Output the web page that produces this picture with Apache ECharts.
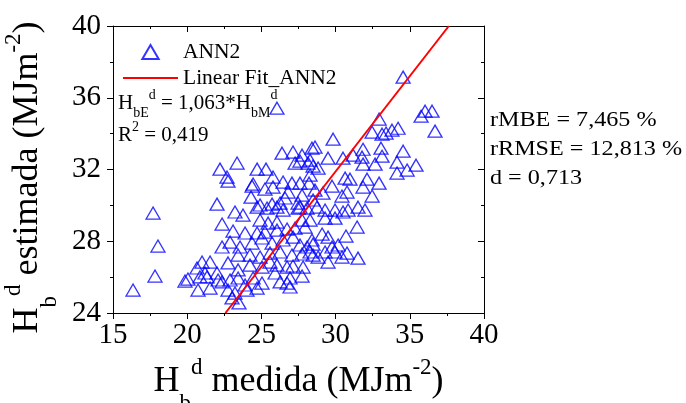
<!DOCTYPE html>
<html>
<head>
<meta charset="utf-8">
<script src="https://cdn.jsdelivr.net/npm/echarts@6/dist/echarts.min.js"></script>
<style>
  html, body { margin: 0; padding: 0; background: #ffffff; }
  #chart { width: 686px; height: 403px; }
</style>
</head>
<body>
<div id="chart"></div>
<script>
// Measured daily diffuse irradiation (MJ m-2)
const measured = [
  16.35, 17.70, 18.03, 17.83, 19.85, 26.05, 34.55, 35.76, 36.03, 36.50,
  36.70, 32.93, 32.46, 33.13, 33.40, 33.80, 34.21, 29.83, 28.61, 29.49,
  30.50, 31.18, 31.85, 31.78, 31.85, 32.66, 33.06, 33.13, 34.55, 34.14,
  34.82, 35.42, 34.14, 28.48, 28.82, 27.74, 27.13, 27.27, 28.28, 26.39,
  28.41, 27.60, 28.14, 23.36, 22.21, 22.68, 22.75, 24.71, 25.31, 25.78,
  26.46, 27.06, 27.60, 28.28, 28.21, 24.37, 25.24, 25.78, 26.80, 27.74,
  26.59, 24.30, 22.01, 24.91, 25.72, 26.26, 27.47, 28.48, 29.76, 30.64,
  30.97, 32.12, 31.85, 32.93, 30.77, 30.43, 32.46, 29.15, 31.51, 28.75,
  29.29, 29.96, 30.50, 30.84, 31.98, 29.29, 29.96, 31.45, 29.09, 29.49,
  30.70, 28.41, 29.76, 30.17, 30.77, 29.96, 29.29, 28.48, 28.82, 29.49,
  30.43, 31.51, 28.61, 27.60, 23.22, 23.76, 24.71, 25.38, 26.05, 26.46,
  27.47, 28.08, 24.91, 25.45, 26.05, 22.35, 23.09, 23.90, 24.71, 25.24,
  26.05, 26.73, 27.27, 27.74, 27.94, 28.28, 22.35, 22.89, 23.56, 24.37,
  25.04, 25.72, 26.46, 27.13, 27.60, 28.08, 28.48, 23.43, 24.23, 24.91,
  25.58, 26.26, 27.06, 27.74, 28.28, 21.00, 21.54, 22.75, 20.66, 21.20,
  22.01, 23.43, 24.23, 25.04, 25.58, 26.05, 26.73, 27.13, 27.81, 20.05,
  20.86, 21.34, 22.35, 22.89, 23.43, 24.44, 25.04, 25.92, 26.26, 26.73,
  20.73, 21.54, 22.75, 23.22, 24.03, 24.71, 23.90, 23.02, 23.49, 26.93,
  26.93, 27.74, 22.08, 24.44
];

// ANN2 estimated daily diffuse irradiation (MJ m-2)
const estimated = [
  25.28, 29.57, 27.73, 26.06, 25.78, 35.42, 37.15, 34.97, 35.25, 35.25,
  34.14, 34.81, 34.08, 33.97, 34.03, 34.19, 34.30, 33.69, 33.25, 32.63,
  32.63, 32.80, 33.13, 32.69, 32.30, 32.30, 33.19, 32.74, 33.02, 32.41,
  31.97, 32.24, 31.80, 32.19, 32.08, 32.80, 32.97, 32.36, 32.52, 32.91,
  33.19, 32.47, 32.36, 32.36, 32.02, 31.58, 31.35, 32.02, 32.02, 31.58,
  31.30, 31.24, 31.24, 31.69, 31.24, 31.07, 30.91, 31.02, 30.74, 30.57,
  30.41, 30.46, 30.07, 30.02, 30.07, 30.13, 30.13, 30.30, 31.07, 31.52,
  31.46, 31.46, 31.02, 31.24, 30.74, 30.52, 30.52, 30.68, 29.90, 29.90,
  29.74, 29.74, 29.63, 29.74, 29.74, 29.29, 29.29, 28.79, 28.40, 28.23,
  28.29, 28.07, 27.68, 27.79, 27.34, 27.40, 27.40, 27.23, 27.12, 26.84,
  27.12, 27.06, 30.85, 29.90, 29.63, 29.46, 29.90, 29.85, 29.90, 29.74,
  29.85, 29.85, 29.18, 29.01, 29.07, 28.96, 28.57, 28.46, 28.46, 28.51,
  28.62, 28.68, 28.73, 29.18, 28.79, 29.18, 27.68, 27.95, 27.68, 27.90,
  28.18, 27.90, 28.07, 28.23, 27.79, 27.68, 27.84, 27.23, 27.23, 27.12,
  27.34, 27.40, 27.23, 27.29, 27.40, 26.84, 26.84, 26.79, 26.51, 26.23,
  26.23, 26.40, 26.67, 26.56, 26.84, 26.67, 26.56, 26.62, 26.56, 25.89,
  26.01, 26.01, 25.73, 25.84, 25.95, 25.95, 25.67, 26.23, 25.73, 25.67,
  25.28, 25.39, 25.28, 25.11, 25.28, 25.39, 25.56, 24.84, 24.56, 25.95,
  25.45, 26.06, 25.84, 31.19
];

// Axis ranges and tick spacing
const xRange = [15, 40];
const xStep = 5;
const yRange = [24, 40];
const yStep = 4;

// Linear fit through the origin: Hd_bE = slope * Hd_bM
const fitSlope = 1.063;
const fitR2 = '0,419';

// Statistical indicators
const statLines = ['rMBE = 7,465 %', 'rRMSE = 12,813 %', 'd = 0,713'];

const seriesNames = ['ANN2', 'Linear Fit_ANN2'];

const serif = '"Liberation Serif", "Times New Roman", serif';
const blue = '#0000ff';
const red = '#ff0000';

const points = measured.map((m, i) => [m, estimated[i]]);
const fitLine = [
  [yRange[0] / fitSlope, yRange[0]],
  [yRange[1] / fitSlope, yRange[1]]
];

// Rich styles for axis titles with sub/superscripts
function titleRich(main, small) {
  return {
    m: { fontFamily: serif, fontSize: main, lineHeight: 67, color: '#000', verticalAlign: 'middle' },
    sb: { fontFamily: serif, fontSize: small, color: '#000', verticalAlign: 'bottom' },
    sp: { fontFamily: serif, fontSize: small, color: '#000', verticalAlign: 'top', padding: [8, 0, 0, 0] }
  };
}

const tickLine = { color: '#000', width: 1 };

function axisBase(range, step) {
  return {
    type: 'value',
    min: range[0],
    max: range[1],
    interval: step,
    splitLine: { show: false },
    axisLine: { show: true, onZero: false, lineStyle: tickLine },
    minorTick: { show: true, splitNumber: 2, length: 3, lineStyle: tickLine },
    minorSplitLine: { show: false }
  };
}

const chart = echarts.init(document.getElementById('chart'), null, { renderer: 'canvas' });

chart.setOption({
  animation: false,
  backgroundColor: '#ffffff',
  grid: { left: 113, right: 202, top: 26, bottom: 90, containLabel: false, outerBoundsMode: 'none' },
  xAxis: [
    Object.assign(axisBase(xRange, xStep), {
      position: 'bottom',
      axisTick: { show: true, inside: false, length: 6, lineStyle: tickLine },
      axisLabel: { fontFamily: serif, fontSize: 29, color: '#000', margin: 8 },
      name: '{m|H}{sb|b}{sp|d}{m| medida (MJm}{sp|-2}{m|)}',
      nameLocation: 'middle',
      nameGap: 35,
      nameTextStyle: { fontFamily: serif, fontSize: 36, color: '#000', rich: titleRich(36, 23) }
    }),
    Object.assign(axisBase(xRange, xStep), {
      position: 'top',
      axisTick: { show: true, inside: true, length: 6, lineStyle: tickLine },
      axisLabel: { show: false }
    })
  ],
  yAxis: [
    Object.assign(axisBase(yRange, yStep), {
      position: 'left',
      axisTick: { show: true, inside: false, length: 6, lineStyle: tickLine },
      axisLabel: { fontFamily: serif, fontSize: 29, color: '#000', margin: 12 },
      name: '{m|H}{sb|b}{sp|d}{m| estimada (MJm}{sp|-2}{m|)}',
      nameLocation: 'middle',
      nameGap: 47,
      nameTextStyle: {
        fontFamily: serif, fontSize: 36, color: '#000',
        padding: [0, 16, 0, 0],
        rich: titleRich(36, 23)
      }
    }),
    Object.assign(axisBase(yRange, yStep), {
      position: 'right',
      axisTick: { show: true, inside: true, length: 6, lineStyle: tickLine },
      axisLabel: { show: false }
    })
  ],
  legend: {
    orient: 'vertical',
    left: 118,
    top: 35,
    itemWidth: 55,
    itemHeight: 14,
    itemGap: 2,
    symbolKeepAspect: true,
    textStyle: { fontFamily: serif, fontSize: 21.5, color: '#000', lineHeight: 24 },
    data: [
      { name: seriesNames[0], icon: 'path://M0,12 L7,0 L14,12 Z' },
      { name: seriesNames[1], icon: 'path://M0,0 H57 V2 H0 Z' }
    ]
  },
  graphic: [
    {
      type: 'text',
      left: 118,
      top: 88,
      style: {
        text: '{m|H}{sb|bE}{sp|d}{m| = ' + fitSlope.toFixed(3).replace('.', ',') + '*H}{sb|bM}{sp|d}',
        rich: {
          m: { fontFamily: serif, fontSize: 21, lineHeight: 34, fill: '#000', verticalAlign: 'middle' },
          sb: { fontFamily: serif, fontSize: 14, fill: '#000', verticalAlign: 'bottom' },
          sp: { fontFamily: serif, fontSize: 14, fill: '#000', verticalAlign: 'top', padding: [2, 0, 0, 0] }
        }
      }
    },
    {
      type: 'text',
      left: 118,
      top: 120,
      style: {
        text: '{m|R}{sp|2}{m| = ' + fitR2 + '}',
        rich: {
          m: { fontFamily: serif, fontSize: 21, lineHeight: 34, fill: '#000', verticalAlign: 'middle' },
          sp: { fontFamily: serif, fontSize: 14, fill: '#000', verticalAlign: 'top', padding: [2, 0, 0, 0] }
        }
      }
    },
    {
      type: 'text',
      x: 490,
      y: 106,
      scaleX: 1.15,
      style: {
        text: statLines.join('\n'),
        fontFamily: serif,
        fontSize: 21,
        lineHeight: 29,
        fill: '#000'
      }
    }
  ],
  series: [
    {
      name: seriesNames[0],
      type: 'scatter',
      xAxisIndex: 0,
      yAxisIndex: 0,
      symbol: 'triangle',
      symbolSize: [14, 12],
      itemStyle: { color: 'rgba(255,255,255,0)', borderColor: blue, borderWidth: 1.3 },
      emphasis: { disabled: true },
      data: points,
      z: 3
    },
    {
      name: seriesNames[1],
      type: 'line',
      xAxisIndex: 0,
      yAxisIndex: 0,
      symbol: 'none',
      clip: true,
      lineStyle: { color: red, width: 2 },
      itemStyle: { color: red },
      data: fitLine,
      z: 4
    }
  ]
});
</script>
</body>
</html>
